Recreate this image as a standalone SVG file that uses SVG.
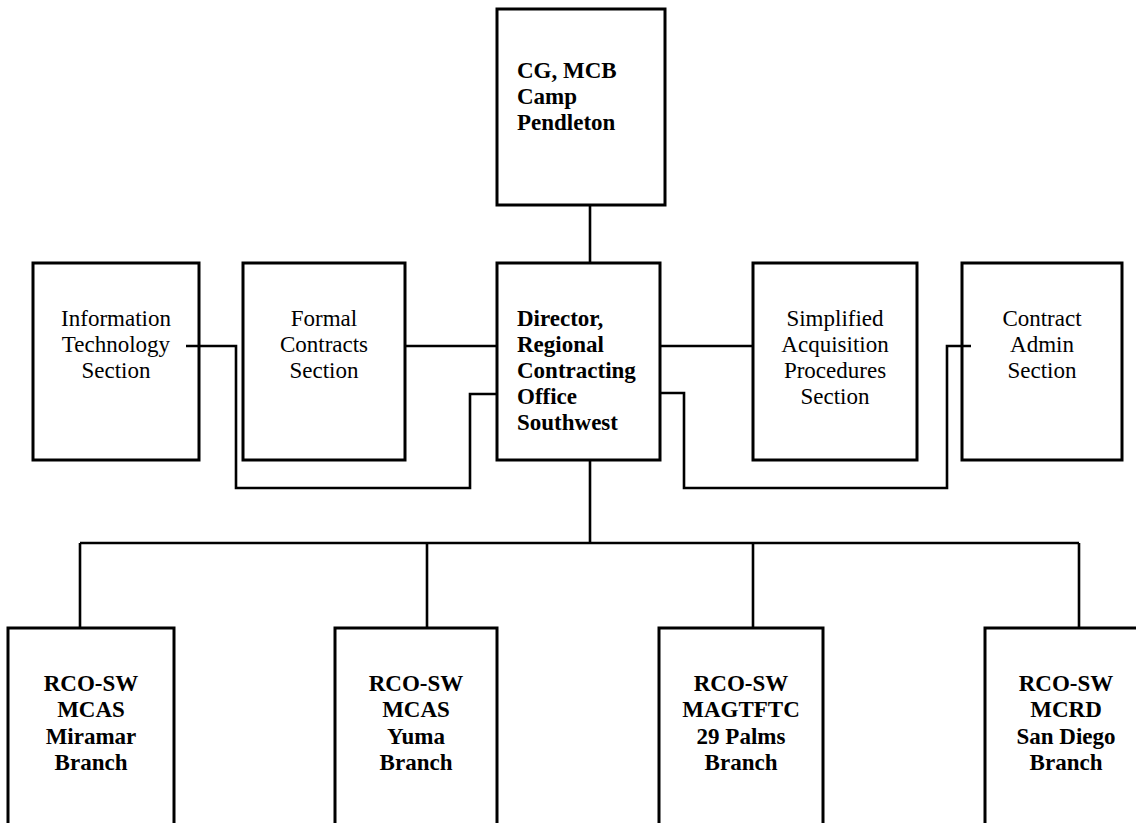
<svg xmlns="http://www.w3.org/2000/svg" width="1136" height="823" viewBox="0 0 1136 823">
<style>
.box{fill:#fff;stroke:#000;stroke-width:3}
.ln{fill:none;stroke:#000;stroke-width:2.6}
.t{font-family:"Liberation Serif","Times New Roman",serif;font-size:23px;fill:#000}
.b{font-weight:bold}
.c{text-anchor:middle}
</style>
<rect width="1136" height="823" fill="#fff"/>
<g id="cg">
<rect class="box" x="497" y="9" width="168" height="196"/>
<text class="t b" x="517" y="78">CG, MCB</text>
<text class="t b" x="517" y="104">Camp</text>
<text class="t b" x="517" y="130">Pendleton</text>
</g>
<g id="it">
<rect class="box" x="33" y="263" width="166" height="197"/>
<text class="t c" x="116" y="326">Information</text>
<text class="t c" x="116" y="352">Technology</text>
<text class="t c" x="116" y="378">Section</text>
</g>
<g id="formal">
<rect class="box" x="243" y="263" width="162" height="197"/>
<text class="t c" x="324" y="326">Formal</text>
<text class="t c" x="324" y="352">Contracts</text>
<text class="t c" x="324" y="378">Section</text>
</g>
<g id="director">
<rect class="box" x="497" y="263" width="163" height="197"/>
<text class="t b" x="517" y="326">Director,</text>
<text class="t b" x="517" y="352">Regional</text>
<text class="t b" x="517" y="378">Contracting</text>
<text class="t b" x="517" y="404">Office</text>
<text class="t b" x="517" y="430">Southwest</text>
</g>
<g id="simplified">
<rect class="box" x="753" y="263" width="164" height="197"/>
<text class="t c" x="835" y="326">Simplified</text>
<text class="t c" x="835" y="352">Acquisition</text>
<text class="t c" x="835" y="378">Procedures</text>
<text class="t c" x="835" y="404">Section</text>
</g>
<g id="contract">
<rect class="box" x="962" y="263" width="160" height="197"/>
<text class="t c" x="1042" y="326">Contract</text>
<text class="t c" x="1042" y="352">Admin</text>
<text class="t c" x="1042" y="378">Section</text>
</g>
<g id="miramar">
<rect class="box" x="8" y="628" width="166" height="210"/>
<text class="t b c" x="91" y="691">RCO-SW</text>
<text class="t b c" x="91" y="717">MCAS</text>
<text class="t b c" x="91" y="744">Miramar</text>
<text class="t b c" x="91" y="770">Branch</text>
</g>
<g id="yuma">
<rect class="box" x="335" y="628" width="162" height="210"/>
<text class="t b c" x="416" y="691">RCO-SW</text>
<text class="t b c" x="416" y="717">MCAS</text>
<text class="t b c" x="416" y="744">Yuma</text>
<text class="t b c" x="416" y="770">Branch</text>
</g>
<g id="palms">
<rect class="box" x="659" y="628" width="164" height="210"/>
<text class="t b c" x="741" y="691">RCO-SW</text>
<text class="t b c" x="741" y="717">MAGTFTC</text>
<text class="t b c" x="741" y="744">29 Palms</text>
<text class="t b c" x="741" y="770">Branch</text>
</g>
<g id="sandiego">
<rect class="box" x="985" y="628" width="164" height="210"/>
<text class="t b c" x="1066" y="691">RCO-SW</text>
<text class="t b c" x="1066" y="717">MCRD</text>
<text class="t b c" x="1066" y="744">San Diego</text>
<text class="t b c" x="1066" y="770">Branch</text>
</g>
<g id="connectors">
<path class="ln" d="M590 205V263"/>
<path class="ln" d="M186 346H236V488H470V394H497"/>
<path class="ln" d="M405 346H497"/>
<path class="ln" d="M660 346H753"/>
<path class="ln" d="M660 393H684V488H947V346H971"/>
<path class="ln" d="M590 460V543"/>
<path class="ln" d="M80 543H1079"/>
<path class="ln" d="M80 543V628M427 543V628M753 543V628M1079 543V628"/>
</g>
</svg>
